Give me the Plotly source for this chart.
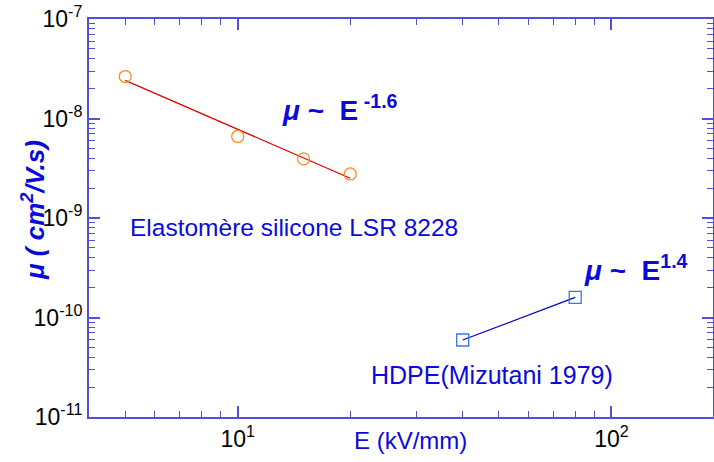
import numpy as np
import plotly.graph_objects as go

# Data
E_lsr = [5, 10, 15, 20]
mu_lsr = [2.64e-8, 6.6e-9, 3.93e-9, 2.77e-9]
E_hdpe = [40, 80]
mu_hdpe = [5.94e-11, 1.59e-10]

x_range = [4.0, 187.0]
y_range = [1e-11, 1e-7]
x_tickvals = [10, 100]
x_ticktext = ["10<sup>1</sup>", "10<sup>2</sup>"]
y_tickvals = [1e-11, 1e-10, 1e-9, 1e-8, 1e-7]
y_ticktext = ["10<sup>-11</sup>", "10<sup>-10</sup>", "10<sup>-9</sup>",
              "10<sup>-8</sup>", "10<sup>-7</sup>"]

# Power-law fit for LSR
lx = np.log10(E_lsr)
ly = np.log10(mu_lsr)
p = np.polyfit(lx, ly, 1)
fit_x = np.array([min(E_lsr), max(E_lsr)])
fit_y = 10 ** np.polyval(p, np.log10(fit_x))

AX = "#5050dc"
TXT = "#0a0adc"
FONT = "Liberation Sans, Arial"

fig = go.Figure()
fig.add_trace(go.Scatter(x=fit_x, y=fit_y, mode="lines",
                         line=dict(color="#e00000", width=1.3), showlegend=False))
fig.add_trace(go.Scatter(x=E_lsr, y=mu_lsr, mode="markers",
                         marker=dict(symbol="circle-open", size=12, color="#ff8c1a",
                                     line=dict(width=1.3)), showlegend=False))
fig.add_trace(go.Scatter(x=E_hdpe, y=mu_hdpe, mode="lines",
                         line=dict(color="#0000c8", width=1.3), showlegend=False))
fig.add_trace(go.Scatter(x=E_hdpe, y=mu_hdpe, mode="markers",
                         marker=dict(symbol="square-open", size=12, color="#3a78e0",
                                     line=dict(width=1.3)), showlegend=False))

font_tick = dict(family=FONT, size=23, color="black")

common = dict(type="log", showgrid=False, zeroline=False, automargin=False,
              showline=True, linecolor=AX, linewidth=2, mirror="ticks",
              ticks="inside", ticklen=11, tickcolor=AX, tickwidth=1.5,
              tickfont=font_tick, tickmode="array", ticklabeloverflow="allow",
              minor=dict(ticks="inside", ticklen=6, tickcolor=AX, tickwidth=1.2,
                         dtick="D1", showgrid=False))

fig.update_xaxes(range=[np.log10(x_range[0]), np.log10(x_range[1])],
                 tickvals=x_tickvals, ticktext=x_ticktext, **common)
fig.update_yaxes(range=[np.log10(y_range[0]), np.log10(y_range[1])],
                 tickvals=y_tickvals, ticktext=y_ticktext, **common)

afont = dict(family=FONT, color=TXT)
fig.add_annotation(x=-0.0897, y=0.520, xref="paper", yref="paper", xanchor="center",
                   yanchor="middle", showarrow=False, textangle=-90,
                   text="<b><i>μ ( cm<sup>2</sup>/V.s)</i></b>", font=dict(size=26, **afont))
fig.add_annotation(x=0.306, y=0.776, xref="paper", yref="paper", xanchor="left",
                   yanchor="middle", showarrow=False,
                   text="<b><i>μ</i> ~  E<sup> -1.6</sup></b>", font=dict(size=28, **afont))
fig.add_annotation(x=0.0625, y=0.477, xref="paper", yref="paper", xanchor="left",
                   yanchor="middle", showarrow=False,
                   text="Elastomère silicone LSR 8228", font=dict(size=24.5, **afont))
fig.add_annotation(x=0.790, y=0.374, xref="paper", yref="paper", xanchor="left",
                   yanchor="middle", showarrow=False,
                   text="<b><i>μ</i> ~  E<sup>1.4</sup></b>", font=dict(size=28, **afont))
fig.add_annotation(x=0.449, y=0.1055, xref="paper", yref="paper", xanchor="left",
                   yanchor="middle", showarrow=False,
                   text="HDPE(Mizutani 1979)", font=dict(size=25, **afont))
fig.add_annotation(x=0.516, y=-0.06, xref="paper", yref="paper", xanchor="center",
                   yanchor="middle", showarrow=False,
                   text="E (kV/mm)", font=dict(size=24, **afont))

fig.update_layout(width=714, height=462, paper_bgcolor="white", plot_bgcolor="white",
                  margin=dict(l=89, r=1, t=19, b=45))

# remove the page's default body margin so the figure fills the window exactly
fig.write_html("out.html", config={"displayModeBar": False},
               post_script="document.body.style.margin='0px';document.body.style.overflow='hidden';")
